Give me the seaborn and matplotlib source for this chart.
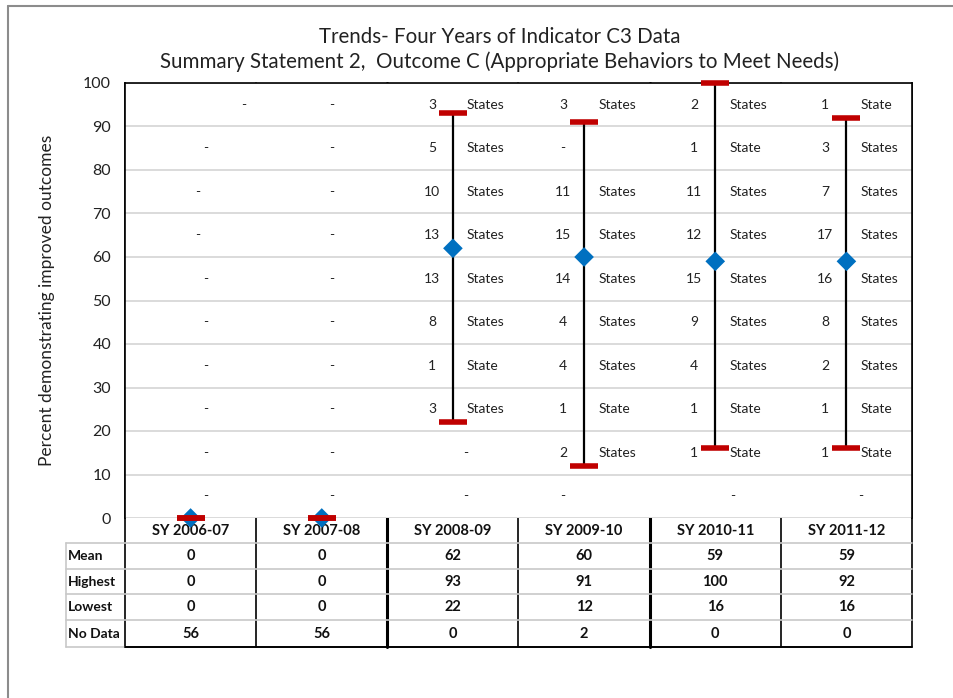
import numpy as np
import pandas as pd
import seaborn as sns
import matplotlib.pyplot as plt

years = ['SY 2006-07', 'SY 2007-08', 'SY 2008-09', 'SY 2009-10', 'SY 2010-11', 'SY 2011-12']
mean_vals = [0, 0, 62, 60, 59, 59]
high_vals = [0, 0, 93, 91, 100, 92]
low_vals = [0, 0, 22, 12, 16, 16]
no_data = [56, 56, 0, 2, 0, 0]

# number of states in each 10-point band, top band first (None = "-")
band_mids = [95, 85, 75, 65, 55, 45, 35, 25, 15, 5]
counts = [
    [None] * 10,
    [None] * 10,
    [3, 5, 10, 13, 13, 8, 1, 3, None, None],
    [3, None, 11, 15, 14, 4, 4, 1, 2, None],
    [2, 1, 11, 12, 15, 9, 4, 1, 1, None],
    [1, 3, 7, 17, 16, 8, 2, 1, 1, None],
]

df = pd.DataFrame({'year': years, 'mean': mean_vals, 'high': high_vals,
                   'low': low_vals, 'nodata': no_data})
df['x'] = np.arange(len(df)) + 0.5

sns.set_style('white')
plt.rcParams['font.family'] = ['Lato', 'DejaVu Sans']

W, H = 954, 698
fig = plt.figure(figsize=(W / 100, H / 100), dpi=100)

# axes in pixel terms
L, R, T, B = 125, 912, 83, 518
ax = fig.add_axes([L / W, 1 - B / H, (R - L) / W, (B - T) / H])
ax.set_xlim(0, 6)
ax.set_ylim(0, 100)
ax.set_yticks(range(0, 101, 10))
ax.set_xticks([])
ax.tick_params(axis='y', labelsize=11.5, length=4, color='#a0a0a0', pad=6, labelcolor='#222222')
ax.yaxis.grid(True, color='#d4d4d4', lw=1.2)
ax.set_axisbelow(True)
for s in ['top', 'left', 'right']:
    ax.spines[s].set_color('black')
    ax.spines[s].set_linewidth(1.2)
ax.spines['bottom'].set_visible(False)
ax.set_ylabel('Percent demonstrating improved outcomes', fontsize=12.5, color='#222222', labelpad=20)

# hi-lo lines, mean diamonds, high/low caps
ax.vlines(df['x'], df['low'], df['high'], color='black', lw=1.6, zorder=3)
sns.scatterplot(data=df, x='x', y='mean', marker='D', s=100, color='#0070c0',
                edgecolor='none', ax=ax, zorder=4, clip_on=False, legend=False)
cap = 0.107
ax.hlines(df['high'], df['x'] - cap, df['x'] + cap, color='#c00000', lw=4, zorder=5, clip_on=False)
ax.hlines(df['low'], df['x'] - cap, df['x'] + cap, color='#c00000', lw=4, zorder=5, clip_on=False)
ax.set_xlabel('')

# state counts per band
colw = (R - L) / 6
num_off = -21 / colw
word_off = 14 / colw
dash_off = [15, 10, 13, -21, 17, 14]
for i, col in enumerate(counts):
    xc = i + 0.5
    for y, c in zip(band_mids, col):
        if c is None:
            dx = dash_off[i]
            if i == 0 and y == 95:
                dx = 53
            elif i == 0 and y in (75, 65):
                dx = 7
            ax.text(xc + dx / colw, y, '-', ha='center', va='center',
                    fontsize=10, color='#222222')
        else:
            ax.text(xc + num_off, y, str(c), ha='center', va='center',
                    fontsize=10, color='#222222')
            ax.text(xc + word_off, y, 'State' if c == 1 else 'States', ha='left',
                    va='center', fontsize=10, color='#222222')

# overlay in pixel coordinates for column lines, table and frame
ov = fig.add_axes([0, 0, 1, 1], zorder=-1)
ov.set_xlim(0, W)
ov.set_ylim(H, 0)
ov.axis('off')
ov.patch.set_alpha(0)

edges = [L + i * colw for i in range(7)]
for i, xe in enumerate(edges):
    lw = 2.2 if i in (2, 4) else 1.2
    ov.plot([xe, xe], [T, 647], color='black', lw=lw)

row_lines = [543, 569, 594, 620]
for yl in row_lines:
    ov.plot([66, R], [yl, yl], color='#c8c8c8', lw=1.2)
ov.plot([66, L], [647, 647], color='#c8c8c8', lw=1.2)
ov.plot([66, 66], [543, 647], color='#c8c8c8', lw=1.2)
ov.plot([L, R], [647, 647], color='black', lw=1.4)

centers = [L + (i + 0.5) * colw for i in range(6)]
for xc, yr in zip(centers, years):
    ov.text(xc, 531, yr, ha='center', va='center', fontsize=10.5, fontweight='bold', color='#111111')

rows = [('Mean', mean_vals, 556), ('Highest', high_vals, 582),
        ('Lowest', low_vals, 607), ('No Data', no_data, 634)]
for name, vals, yr in rows:
    ov.text(68, yr, name, ha='left', va='center', fontsize=10, fontweight='bold', color='#111111')
    for xc, v in zip(centers, vals):
        ov.text(xc, yr, str(v), ha='center', va='center', fontsize=10.5, fontweight='bold', color='#111111')

# outer frame
ov.plot([8, 8], [6, H], color='#8c8c8c', lw=1.5)
ov.plot([8, W], [6, 6], color='#8c8c8c', lw=1.5)

fig.text(500 / W, 1 - 37 / H, 'Trends- Four Years of Indicator C3 Data', ha='center', va='center',
         fontsize=14.8, color='#222222')
fig.text(500 / W, 1 - 62 / H, 'Summary Statement 2,  Outcome C (Appropriate Behaviors to Meet Needs)',
         ha='center', va='center', fontsize=14.8, color='#222222')

fig.savefig('out.png', dpi=100)
